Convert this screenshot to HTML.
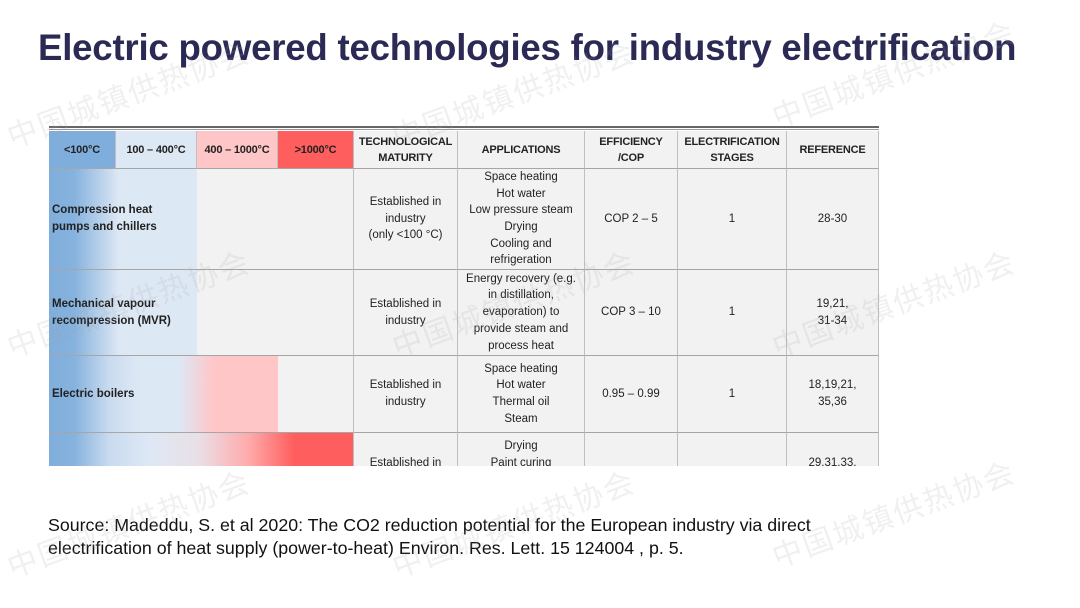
<!DOCTYPE html>
<html><head><meta charset="utf-8"><style>
body{margin:0;width:1080px;height:608px;background:#fff;position:relative;overflow:hidden;font-family:"Liberation Sans",sans-serif}
.t{position:absolute;left:38px;top:27px;font-size:36.6px;font-weight:bold;color:#2b2a55;white-space:nowrap;letter-spacing:-0.2px}
.c{position:absolute;background:#f2f2f2;border-right:1px solid #bfbfbf;border-bottom:1px solid #a6a6a6;box-sizing:border-box;display:flex;align-items:center;justify-content:center;text-align:center;font-size:11.5px;line-height:16.7px;color:#222;overflow:hidden}
.h{font-weight:bold;font-size:11px;line-height:16px;letter-spacing:-0.2px}
.l{justify-content:flex-start;text-align:left;padding-left:3px;font-weight:bold}
.w{position:absolute;font-family:"Noto Sans CJK SC",sans-serif;font-size:30px;color:rgba(160,160,160,0.16);transform:rotate(-20deg);white-space:nowrap;letter-spacing:2px}
.s{position:absolute;left:48px;top:514px;font-size:17.8px;line-height:23px;color:#111;white-space:nowrap}
</style></head><body>
<div class="t">Electric powered technologies for industry electrification</div>
<div style="position:absolute;left:49px;top:126px;width:830px;height:2px;background:#666"></div>
<div style="position:absolute;left:49px;top:129px;width:830px;height:1px;background:#999"></div>
<div class="c h" style="left:49px;top:131px;width:67px;height:38px;background:#80aedc">&lt;100°C</div>
<div class="c h" style="left:116px;top:131px;width:81px;height:38px;background:#dde8f5">100 – 400°C</div>
<div class="c h" style="left:197px;top:131px;width:81px;height:38px;background:#ffc6c7">400 – 1000°C</div>
<div class="c h" style="left:278px;top:131px;width:76px;height:38px;background:#ff5e5e">&gt;1000°C</div>
<div class="c h" style="left:354px;top:131px;width:104px;height:38px">TECHNOLOGICAL<br>MATURITY</div>
<div class="c h" style="left:458px;top:131px;width:127px;height:38px">APPLICATIONS</div>
<div class="c h" style="left:585px;top:131px;width:93px;height:38px">EFFICIENCY<br>/COP</div>
<div class="c h" style="left:678px;top:131px;width:109px;height:38px">ELECTRIFICATION<br>STAGES</div>
<div class="c h" style="left:787px;top:131px;width:92px;height:38px">REFERENCE</div>
<div class="c l" style="left:49px;top:169px;width:305px;height:101px;background:linear-gradient(90deg,#80aedc 0,#86b2de 25px,#c9dbef 60px,#dde8f5 70px,#dde8f5 148px,#f2f2f2 148px)">Compression heat<br>pumps and chillers</div>
<div class="c" style="left:354px;top:169px;width:104px;height:101px">Established in<br>industry<br>(only &lt;100 °C)</div>
<div class="c" style="left:458px;top:169px;width:127px;height:101px">Space heating<br>Hot water<br>Low pressure steam<br>Drying<br>Cooling and<br>refrigeration</div>
<div class="c" style="left:585px;top:169px;width:93px;height:101px">COP 2 – 5</div>
<div class="c" style="left:678px;top:169px;width:109px;height:101px">1</div>
<div class="c" style="left:787px;top:169px;width:92px;height:101px">28-30</div>
<div class="c l" style="left:49px;top:270px;width:305px;height:86px;background:linear-gradient(90deg,#80aedc 0,#86b2de 25px,#c9dbef 60px,#dde8f5 70px,#dde8f5 148px,#f2f2f2 148px)">Mechanical vapour<br>recompression (MVR)</div>
<div class="c" style="left:354px;top:270px;width:104px;height:86px">Established in<br>industry</div>
<div class="c" style="left:458px;top:270px;width:127px;height:86px">Energy recovery (e.g.<br>in distillation,<br>evaporation) to<br>provide steam and<br>process heat</div>
<div class="c" style="left:585px;top:270px;width:93px;height:86px">COP 3 – 10</div>
<div class="c" style="left:678px;top:270px;width:109px;height:86px">1</div>
<div class="c" style="left:787px;top:270px;width:92px;height:86px">19,21,<br>31-34</div>
<div class="c l" style="left:49px;top:356px;width:305px;height:77px;background:linear-gradient(90deg,#80aedc 0,#86b2de 25px,#c9dbef 60px,#dde8f5 90px,#dde8f5 130px,#ffc6c7 165px,#ffc6c7 229px,#f2f2f2 229px)">Electric boilers</div>
<div class="c" style="left:354px;top:356px;width:104px;height:77px">Established in<br>industry</div>
<div class="c" style="left:458px;top:356px;width:127px;height:77px">Space heating<br>Hot water<br>Thermal oil<br>Steam</div>
<div class="c" style="left:585px;top:356px;width:93px;height:77px">0.95 – 0.99</div>
<div class="c" style="left:678px;top:356px;width:109px;height:77px">1</div>
<div class="c" style="left:787px;top:356px;width:92px;height:77px">18,19,21,<br>35,36</div>
<div style="position:absolute;left:49px;top:433px;width:830px;height:33px;overflow:hidden">
<div class="c" style="left:0;top:0;width:305px;height:60px;background:linear-gradient(90deg,#80aedc 0,#86b2de 25px,#c9dbef 60px,#dde8f5 100px,#eadfe6 150px,#ffaaaa 200px,#ff5e5e 245px)"></div>
<div class="c" style="left:305px;top:0;width:104px;height:60px;align-items:flex-start;padding-top:22px">Established in</div>
<div class="c" style="left:409px;top:0;width:127px;height:60px;align-items:flex-start;padding-top:5px">Drying<br>Paint curing</div>
<div class="c" style="left:536px;top:0;width:93px;height:60px"></div>
<div class="c" style="left:629px;top:0;width:109px;height:60px"></div>
<div class="c" style="left:738px;top:0;width:92px;height:60px;align-items:flex-start;padding-top:22px">29,31,33,</div>
</div>
<div class="s">Source: Madeddu, S. et al 2020: The CO2 reduction potential for the European industry via direct<br>electrification of heat supply (power-to-heat) Environ. Res. Lett. 15 124004 , p. 5.</div>
<div class="w" style="left:0px;top:70px">中国城镇供热协会</div>
<div class="w" style="left:385px;top:70px">中国城镇供热协会</div>
<div class="w" style="left:765px;top:50px">中国城镇供热协会</div>
<div class="w" style="left:0px;top:280px">中国城镇供热协会</div>
<div class="w" style="left:385px;top:280px">中国城镇供热协会</div>
<div class="w" style="left:765px;top:280px">中国城镇供热协会</div>
<div class="w" style="left:0px;top:500px">中国城镇供热协会</div>
<div class="w" style="left:385px;top:500px">中国城镇供热协会</div>
<div class="w" style="left:765px;top:490px">中国城镇供热协会</div>
</body></html>
